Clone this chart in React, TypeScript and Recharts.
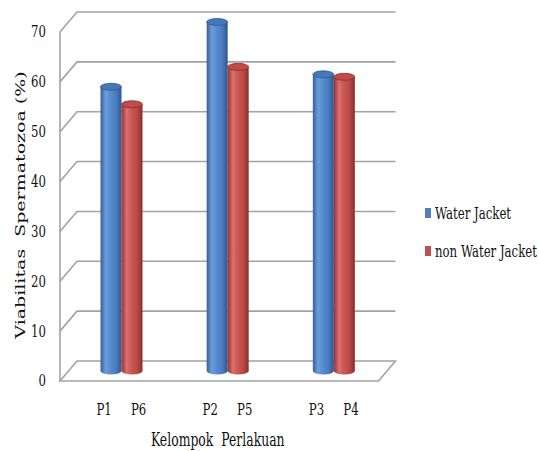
import React from 'react';
import { BarChart, Bar, XAxis, YAxis, CartesianGrid, Legend } from 'recharts';

const groups = ['G1', 'G2', 'G3'];
const waterJacketLabels = ['P1', 'P2', 'P3'];
const nonWaterJacketLabels = ['P6', 'P5', 'P4'];
const waterJacket = [57, 70, 59.5];
const nonWaterJacket = [53.5, 61, 59];
const yTicks = [0, 10, 20, 30, 40, 50, 60, 70];
const seriesNames = ['Water Jacket', 'non Water Jacket'];
const xTitle = 'Kelompok  Perlakuan';
const yTitle = 'Viabilitas  Spermatozoa (%)';

const data = groups.map((g, i) => ({
  group: g,
  wj: waterJacket[i],
  nwj: nonWaterJacket[i],
}));

const FONT = "'DejaVu Serif', serif";
const TEXT = '#111111';
const SX = 0.69;
const FS = 17;
const DX = 8.5; // half depth, horizontal
const DY = 10; // half depth, vertical
const GRID = '#a3a3a3';

const palette: Record<string, any> = {
  blue: {
    stops: ['#34609a', '#6b9ddb', '#5a8dd0', '#4a7bbd', '#2d5590'],
    top: '#4677b8',
    rim: '#2e5891',
  },
  red: {
    stops: ['#98322f', '#d8716d', '#cb5a56', '#b94946', '#8a2d2a'],
    top: '#bf4c48',
    rim: '#8a2d2a',
  },
};

const makeCylinder = (key: string) => (props: any) => {
  const { x, y, width, height } = props;
  if (width == null || height == null) return null;
  const p = palette[key];
  const cx = x + width / 2;
  const rx = width / 2;
  const ry = 3.5;
  const id = `cyl-${key}`;
  return (
    <g>
      <defs>
        <linearGradient id={id} x1="0" y1="0" x2="1" y2="0">
          <stop offset="0%" stopColor={p.stops[0]} />
          <stop offset="25%" stopColor={p.stops[1]} />
          <stop offset="45%" stopColor={p.stops[2]} />
          <stop offset="75%" stopColor={p.stops[3]} />
          <stop offset="100%" stopColor={p.stops[4]} />
        </linearGradient>
      </defs>
      <ellipse cx={cx} cy={y + height} rx={rx} ry={ry} fill={`url(#${id})`} />
      <rect x={x} y={y} width={width} height={height} fill={`url(#${id})`} />
      <ellipse cx={cx} cy={y} rx={rx} ry={ry} fill={p.top} stroke={p.rim} strokeWidth={0.8} />
    </g>
  );
};

const gridLine = (props: any) => {
  const { x1, x2, y1, index } = props;
  const top = props.y;
  const bottom = props.y + props.height;
  const isFloor = Math.abs(y1 - bottom) < 0.6;
  const k = props.key ?? `gl-${index}`;
  if (isFloor) {
    return (
      <g key={k}>
        <polygon
          points={`${x1 - DX},${y1 + DY} ${x2 - DX},${y1 + DY} ${x2 + DX},${y1 - DY} ${x1 + DX},${y1 - DY}`}
          fill="none"
          stroke={GRID}
          strokeWidth={1.6}
        />
        <line x1={x1 - DX} y1={top + DY} x2={x1 - DX} y2={y1 + DY} stroke={GRID} strokeWidth={1.6} />
      </g>
    );
  }
  return (
    <polyline
      key={k}
      points={`${x1 - DX},${y1 + DY} ${x1 + DX},${y1 - DY} ${x2 + DX},${y1 - DY}`}
      fill="none"
      stroke={GRID}
      strokeWidth={1.6}
    />
  );
};

const YTick = (props: any) => {
  const { x, y, payload } = props;
  return (
    <text
      transform={`translate(${x - 14.5},${y + 9}) scale(${SX},1)`}
      textAnchor="end"
      dominantBaseline="central"
      style={{ fontFamily: FONT }}
      fontSize={FS}
      fill={TEXT}
    >
      {payload.value}
    </text>
  );
};

const XTick = (props: any) => {
  const { x, y, index } = props;
  const labels = [waterJacketLabels[index], nonWaterJacketLabels[index]];
  const offs = [-17.5, 17];
  return (
    <g>
      {labels.map((l, i) => (
        <text
          key={l}
          transform={`translate(${x + offs[i]},${y + 36}) scale(${SX},1)`}
          textAnchor="middle"
          style={{ fontFamily: FONT }}
          fontSize={FS}
          fill={TEXT}
        >
          {l}
        </text>
      ))}
    </g>
  );
};

const XTitle = (props: any) => {
  const vb = props.viewBox || { x: 68.5, y: 371, width: 318.5 };
  const cx = vb.x + vb.width / 2 - 10;
  return (
    <text
      transform={`translate(${cx},${vb.y + 75}) scale(${SX},1)`}
      textAnchor="middle"
      fontSize={FS + 1}
      fill={TEXT}
      style={{ whiteSpace: 'pre', fontFamily: FONT }}
    >
      {xTitle}
    </text>
  );
};

const YTitle = (props: any) => {
  const vb = props.viewBox || { x: 0, y: 22, width: 68.5, height: 349 };
  const cy = vb.y + vb.height / 2 + 8.5;
  return (
    <text
      transform={`translate(25,${cy}) rotate(-90) scale(1,${SX})`}
      textAnchor="middle"
      fontSize={FS + 2}
      fill={TEXT}
      style={{ whiteSpace: 'pre', fontFamily: FONT }}
    >
      {yTitle}
    </text>
  );
};

const legendColors = ['#4f81bd', '#c0504d'];

const renderLegend = () => (
  <div style={{ fontFamily: FONT, fontSize: FS, color: TEXT }}>
    {seriesNames.map((n, i) => (
      <div
        key={n}
        style={{ display: 'flex', alignItems: 'center', height: 20, marginBottom: i === 0 ? 17.5 : 0 }}
      >
        <span
          style={{
            display: 'inline-block',
            flexShrink: 0,
            width: 6,
            height: 10,
            background: legendColors[i],
            marginRight: 4,
          }}
        />
        <span
          style={{
            display: 'inline-block',
            flexShrink: 0,
            whiteSpace: 'nowrap',
            transform: `scaleX(${SX})`,
            transformOrigin: 'left center',
            lineHeight: '20px',
          }}
        >
          {n}
        </span>
      </div>
    ))}
  </div>
);

export default function App() {
  return (
    <div style={{ position: 'absolute', left: 0, top: 0, width: 539, height: 451, background: '#fff' }}>
      <BarChart
        width={539}
        height={451}
        data={data}
        margin={{ top: 22, right: 152, bottom: 50, left: 0 }}
        barGap={0}
        barSize={21}
      >
        <CartesianGrid horizontal={gridLine as any} vertical={false} />
        <XAxis
          dataKey="group"
          axisLine={false}
          tickLine={false}
          height={30}
          interval={0}
          tick={<XTick />}
          label={<XTitle />}
        />
        <YAxis
          domain={[0, 70]}
          ticks={yTicks}
          interval={0}
          axisLine={false}
          tickLine={false}
          width={68.5}
          tick={<YTick />}
          label={<YTitle />}
        />
        <Legend
          layout="horizontal"
          align="center"
          verticalAlign="middle"
          content={renderLegend}
          wrapperStyle={{ left: 425, top: 203, width: 120 }}
        />
        <Bar dataKey="wj" name={seriesNames[0]} fill="#4f81bd" isAnimationActive={false} shape={makeCylinder('blue')} />
        <Bar dataKey="nwj" name={seriesNames[1]} fill="#c0504d" isAnimationActive={false} shape={makeCylinder('red')} />
      </BarChart>
    </div>
  );
}
